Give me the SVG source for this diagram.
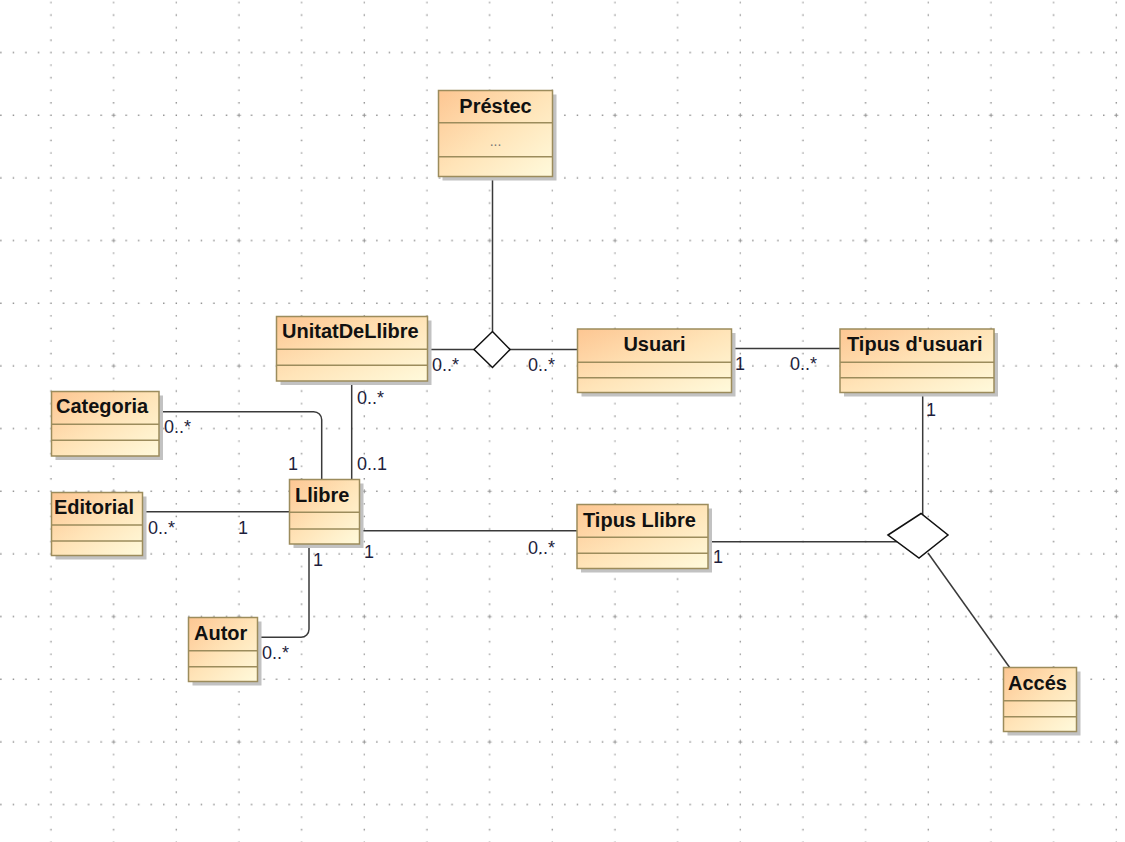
<svg xmlns="http://www.w3.org/2000/svg" width="1125" height="842" viewBox="0 0 1125 842">
<style>
.box{fill:url(#cls);stroke:#9c8c5c;stroke-width:1.5}
.sh{fill:#c2c2c2}
.div{stroke:#9c8c5c;stroke-width:1.5}
.nm{font-family:"Liberation Sans",Arial,sans-serif;font-weight:bold;font-size:20px;fill:#111}
.lb{font-family:"Liberation Sans",Arial,sans-serif;font-size:18px;fill:#1e1e3c}
.cn path{fill:none;stroke:#3a3a3a;stroke-width:1.5}
.dm{fill:#fff;stroke:#111;stroke-width:1.5}
</style>
<defs>
<linearGradient id="cls" x1="0" y1="0" x2="1" y2="1">
<stop offset="0" stop-color="#fdc692"/>
<stop offset="0.5" stop-color="#ffe4b8"/>
<stop offset="1" stop-color="#fffadc"/>
</linearGradient>
<pattern id="grid" patternUnits="userSpaceOnUse" x="107.4" y="109.067" width="125.333" height="125.333">
<path d="M0 6.267H125.333M0 68.933H125.333M6.267 0V125.333M68.933 0V125.333" stroke="#8c8c8c" stroke-width="1.4" stroke-dasharray="1.4 11.1333" stroke-dashoffset="-5.567" fill="none"/>
<path d="M4.267 6.267H8.267M6.267 4.267V8.267" stroke="#9a9a9a" stroke-width="1"/>
</pattern>
</defs>
<rect width="1125" height="842" fill="#fff"/>
<rect width="1125" height="842" fill="url(#grid)"/>

<g class="cn" id="connectors">
<path d="M492.5 177V331.5"/>
<path d="M427.5 349.5H474"/>
<path d="M510 349.5H577.5"/>
<path d="M731.5 348.5H840"/>
<path d="M922.7 392.5V515"/>
<path d="M708 541.7H897"/>
<path d="M928 553L1010 668"/>
<path d="M351.7 381V479.5"/>
<path d="M159 411.7H313.7A8 8 0 0 1 321.7 419.7V479.5"/>
<path d="M142.5 511.7H289.5"/>
<path d="M359.5 530.7H577"/>
<path d="M309 544V629.3A8 8 0 0 1 301 637.3H257.5"/>
<polygon class="dm" points="474,349.5 492.5,331.5 510,349.5 492.5,367.5"/>
<polygon class="dm" points="888,535 921,513.5 948,535 919,558"/>
<text class="lb" x="432" y="371">0..*</text>
<text class="lb" x="528" y="371">0..*</text>
<text class="lb" x="735" y="370">1</text>
<text class="lb" x="790" y="370">0..*</text>
<text class="lb" x="926" y="416">1</text>
<text class="lb" x="357" y="404">0..*</text>
<text class="lb" x="357" y="470">0..1</text>
<text class="lb" x="164" y="433">0..*</text>
<text class="lb" x="288" y="470">1</text>
<text class="lb" x="148" y="534">0..*</text>
<text class="lb" x="238" y="534">1</text>
<text class="lb" x="364" y="558">1</text>
<text class="lb" x="528" y="554">0..*</text>
<text class="lb" x="313" y="566">1</text>
<text class="lb" x="262" y="659">0..*</text>
<text class="lb" x="713" y="563">1</text>
</g>

<g id="Prestec">
<rect class="sh" x="442.5" y="94.5" width="114" height="86"/>
<rect class="box" x="438.5" y="90.5" width="114" height="86"/>
<path class="div" d="M438.5 122.7H552.5M438.5 156.7H552.5"/>
<text class="nm" x="495.5" y="113" text-anchor="middle">Préstec</text>
<text x="495.5" y="146" text-anchor="middle" font-family="Liberation Sans,Arial,sans-serif" font-size="14" fill="#777">...</text>
</g>

<g id="UnitatDeLlibre">
<rect class="sh" x="280.5" y="320.5" width="151" height="64.5"/>
<rect class="box" x="276.5" y="316.5" width="151" height="64.5"/>
<path class="div" d="M276.5 349.3H427.5M276.5 365.3H427.5"/>
<text class="nm" x="282" y="338">UnitatDeLlibre</text>
</g>

<g id="Usuari">
<rect class="sh" x="581.5" y="333" width="154" height="63.5"/>
<rect class="box" x="577.5" y="329" width="154" height="63.5"/>
<path class="div" d="M577.5 362.3H731.5M577.5 377.7H731.5"/>
<text class="nm" x="654.5" y="351" text-anchor="middle">Usuari</text>
</g>

<g id="TipusUsuari">
<rect class="sh" x="844" y="333" width="154" height="63.5"/>
<rect class="box" x="840" y="329" width="154" height="63.5"/>
<path class="div" d="M840 362.3H994M840 377.7H994"/>
<text class="nm" x="847" y="351">Tipus d'usuari</text>
</g>

<g id="Categoria">
<rect class="sh" x="55.5" y="395.5" width="107.5" height="64.5"/>
<rect class="box" x="51.5" y="391.5" width="107.5" height="64.5"/>
<path class="div" d="M51.5 424.3H159M51.5 440.3H159"/>
<text class="nm" x="56" y="413">Categoria</text>
</g>

<g id="Editorial">
<rect class="sh" x="55.5" y="496.5" width="91" height="63"/>
<rect class="box" x="51.5" y="492.5" width="91" height="63"/>
<path class="div" d="M51.5 525H142.5M51.5 541H142.5"/>
<text class="nm" x="54" y="514">Editorial</text>
</g>

<g id="Llibre">
<rect class="sh" x="293.5" y="483.5" width="70" height="64.5"/>
<rect class="box" x="289.5" y="479.5" width="70" height="64.5"/>
<path class="div" d="M289.5 512.3H359.5M289.5 529H359.5"/>
<text class="nm" x="295" y="501.5">Llibre</text>
</g>

<g id="Autor">
<rect class="sh" x="192.5" y="621.5" width="69" height="64"/>
<rect class="box" x="188.5" y="617.5" width="69" height="64"/>
<path class="div" d="M188.5 650.7H257.5M188.5 666.7H257.5"/>
<text class="nm" x="194" y="640">Autor</text>
</g>

<g id="TipusLlibre">
<rect class="sh" x="581" y="508.5" width="131" height="64"/>
<rect class="box" x="577" y="504.5" width="131" height="64"/>
<path class="div" d="M577 537.3H708M577 553.3H708"/>
<text class="nm" x="583" y="527">Tipus Llibre</text>
</g>

<g id="Acces">
<rect class="sh" x="1007.5" y="671.5" width="73" height="64"/>
<rect class="box" x="1003.5" y="667.5" width="73" height="64"/>
<path class="div" d="M1003.5 700.7H1076.5M1003.5 716.7H1076.5"/>
<text class="nm" x="1008" y="690">Accés</text>
</g>
</svg>
